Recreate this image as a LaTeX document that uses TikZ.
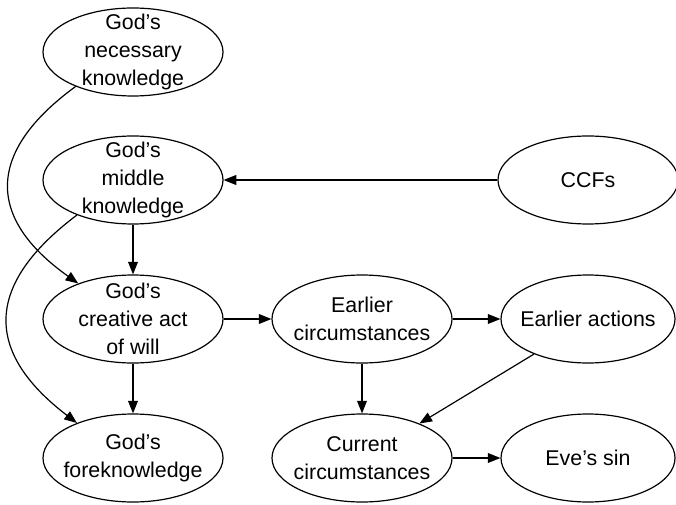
\documentclass[tikz,border=0pt]{standalone}
\usepackage{fontspec}
\setmainfont{Liberation Sans}
\usetikzlibrary{arrows.meta,shapes.geometric}

\tikzset{
  idea/.style={draw, ellipse, line width=0.85pt, minimum width=4.5cm, minimum height=2.2cm,
    inner xsep=-0.7cm, inner ysep=-0.45cm, align=center,
    font=\fontsize{15.2}{20}\selectfont},
  leads/.style={-{Triangle[length=9pt,width=7pt]}, line width=0.85pt}
}

\begin{document}
\begin{tikzpicture}
\useasboundingbox (0,0) rectangle (16.9,-12.625);

% Left column
\node[idea] (nec) at (3.325,-1.3) {God’s\\necessary\\knowledge};
\node[idea] (mid) at (3.325,-4.5) {God’s\\middle\\knowledge};
\node[idea] (will) at (3.325,-7.975) {God’s\\creative act\\of will};
\node[idea] (fore) at (3.325,-11.45) {God’s\\foreknowledge};

% Middle and right columns
\node[idea] (ccf) at (14.7,-4.5) {CCFs};
\node[idea] (earlyc) at (9.05,-7.975) {Earlier\\circumstances};
\node[idea, minimum width=4.35cm] (earlya) at (14.7,-7.975) {Earlier actions};
\node[idea] (curc) at (9.05,-11.45) {Current\\circumstances};
\node[idea, minimum width=4.35cm] (sin) at (14.7,-11.45) {Eve’s sin};

% Straight arrows
\draw[leads] (ccf) -- (mid);
\draw[leads] (mid) -- (will);
\draw[leads] (will) -- (fore);
\draw[leads] (will) -- (earlyc);
\draw[leads] (earlyc) -- (earlya);
\draw[leads] (earlyc) -- (curc);
\draw[leads] (earlya.213) -- (curc.31);
\draw[leads] (curc) -- (sin);

% Curved arrows on the left
\draw[leads] (nec.211) .. controls (-0.35,-3.8) and (-0.35,-5.45) .. (will.147);
\draw[leads] (mid.212) .. controls (-0.4,-7.125) and (-0.4,-8.8) .. (fore.148);

\end{tikzpicture}
\end{document}
